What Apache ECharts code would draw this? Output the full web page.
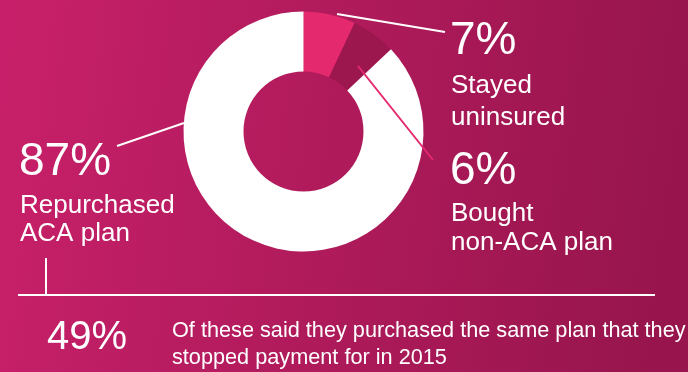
<!DOCTYPE html>
<html>
<head>
<meta charset="utf-8">
<script src="https://cdn.jsdelivr.net/npm/echarts@6/dist/echarts.min.js"></script>
<style>
html,body{margin:0;padding:0;}
#chart{width:688px;height:372px;}
</style>
</head>
<body>
<div id="chart"></div>
<script>
// ---- data ----
const categories = ['Stayed uninsured', 'Bought non-ACA plan', 'Repurchased ACA plan'];
const values = [7, 6, 87];
const labelTexts = [['Stayed', 'uninsured'], ['Bought', 'non-ACA plan'], ['Repurchased', 'ACA plan']];
const followValue = 49;
const followText = ['Of these said they purchased the same plan that they', 'stopped payment for in 2015'];

const sliceColors = ['#e5296f', '#9d174f', '#ffffff'];
const FONT = '"Liberation Sans", Arial, Helvetica, sans-serif';

const chart = echarts.init(document.getElementById('chart'));

function bigText(x, y, txt, size) {
  return { type: 'text', x: x, y: y, silent: true, z: 100,
    style: { text: txt, fill: '#fff', font: size + 'px ' + FONT, align: 'left', verticalAlign: 'middle' } };
}
function line(x1, y1, x2, y2, color) {
  return { type: 'line', silent: true, z: 100, shape: { x1: x1, y1: y1, x2: x2, y2: y2 },
    style: { stroke: color, lineWidth: 2 } };
}

const graphics = [
  // annotation lines
  line(337, 14, 445, 32, '#ffffff'),
  line(358, 66, 433, 160, '#e5296f'),
  line(117, 146, 184, 123, '#ffffff'),
  line(18, 295, 655, 295, '#ffffff'),
  line(46, 258, 46, 295, '#ffffff'),
  // 7%
  bigText(450, 41, values[0] + '%', 46),
  bigText(451, 86, labelTexts[0][0], 26),
  bigText(451, 118, labelTexts[0][1], 26),
  // 6%
  bigText(450, 171, values[1] + '%', 46),
  bigText(451, 214, labelTexts[1][0], 26),
  bigText(451, 243, labelTexts[1][1], 26),
  // 87%
  bigText(19, 162, values[2] + '%', 46),
  bigText(20, 206, labelTexts[2][0], 26),
  bigText(20, 234, labelTexts[2][1], 26),
  // follow-up
  bigText(47, 338, followValue + '%', 40),
  bigText(172, 331, followText[0], 21.7),
  bigText(172, 358, followText[1], 21.7)
];

chart.setOption({
  animation: false,
  backgroundColor: new echarts.graphic.LinearGradient(0, 0, 1, 0.25, [
    { offset: 0, color: '#c8206a' },
    { offset: 1, color: '#97154c' }
  ]),
  series: [{
    type: 'pie',
    z: 2,
    center: [303.5, 131.5],
    radius: [60, 120],
    startAngle: 90,
    clockwise: true,
    avoidLabelOverlap: false,
    label: { show: false },
    labelLine: { show: false },
    emphasis: { disabled: true },
    itemStyle: { borderWidth: 0 },
    data: categories.map((c, i) => ({ name: c, value: values[i], itemStyle: { color: sliceColors[i] } }))
  }],
  graphic: graphics
});
</script>
</body>
</html>
